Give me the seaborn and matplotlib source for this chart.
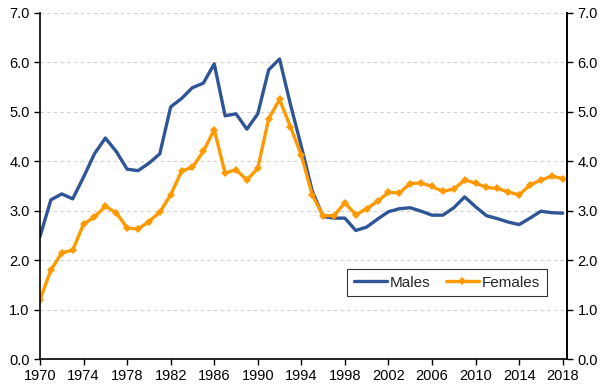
import numpy as np
import pandas as pd
import matplotlib
matplotlib.use("Agg")
import matplotlib.pyplot as plt
import seaborn as sns

# Values, 1970-2018
years = list(range(1970, 2019))
males = [2.48, 3.22, 3.34, 3.24, 3.68, 4.15, 4.47, 4.20, 3.84, 3.81,
         3.96, 4.15, 5.10, 5.27, 5.49, 5.58, 5.97, 4.92, 4.96, 4.65,
         4.96, 5.85, 6.07, 5.15, 4.30, 3.40, 2.88, 2.85, 2.85, 2.60,
         2.67, 2.83, 2.98, 3.04, 3.06, 2.99, 2.91, 2.91, 3.06, 3.28,
         3.08, 2.90, 2.84, 2.77, 2.72, 2.85, 2.99, 2.96, 2.95]
females = [1.20, 1.80, 2.15, 2.20, 2.73, 2.87, 3.09, 2.96, 2.65, 2.63,
           2.78, 2.97, 3.32, 3.80, 3.88, 4.20, 4.64, 3.76, 3.83, 3.62,
           3.86, 4.86, 5.25, 4.70, 4.12, 3.32, 2.90, 2.90, 3.16, 2.92,
           3.04, 3.19, 3.37, 3.36, 3.55, 3.56, 3.49, 3.39, 3.44, 3.62,
           3.56, 3.47, 3.45, 3.38, 3.32, 3.52, 3.62, 3.70, 3.65]
x_ticks = list(range(1970, 2019, 4))
y_ticks = [0, 1, 2, 3, 4, 5, 6, 7]

df = pd.DataFrame({"Year": years, "Males": males, "Females": females})

sns.set_style("white")
plt.rcParams["font.family"] = ["Liberation Sans", "DejaVu Sans"]

fig = plt.figure(figsize=(6.08, 3.91), dpi=100)
ax = fig.add_axes([0.0658, 0.0818, 0.8668, 0.885])

sns.lineplot(data=df, x="Year", y="Males", color="#2F5597",
             linewidth=2.4, label="Males", ax=ax)
sns.lineplot(data=df, x="Year", y="Females", color="#FF9900",
             linewidth=2.4, marker="D", markersize=4.5, markeredgewidth=0,
             label="Females", ax=ax)

ax.set_xlim(1970, 2018.4)
ax.set_ylim(0, 7)
ax.set_xticks(x_ticks)
ax.set_yticks(y_ticks)
ax.set_yticklabels([f"{v:.1f}" for v in y_ticks])
ax.set_xlabel("")
ax.set_ylabel("")
ax.yaxis.grid(True, color="#d0d0d0", linestyle=(0, (3, 3)), linewidth=0.8)
ax.set_axisbelow(True)
for side in ["left", "right", "bottom"]:
    ax.spines[side].set_visible(True)
    ax.spines[side].set_color("black")
    ax.spines[side].set_linewidth(1.2)
ax.spines["top"].set_visible(False)
ax.tick_params(axis="both", direction="out", length=4, width=1,
               labelsize=10.5, colors="black", bottom=True, left=True)

ax2 = ax.twinx()
ax2.set_ylim(0, 7)
ax2.set_yticks(y_ticks)
ax2.set_yticklabels([f"{v:.1f}" for v in y_ticks])
ax2.tick_params(axis="y", direction="out", length=4, width=1,
                labelsize=10.5, colors="black", right=True)
for side in ["left", "top", "bottom"]:
    ax2.spines[side].set_visible(False)
ax2.spines["right"].set_color("black")
ax2.spines["right"].set_linewidth(1.2)

handles, labels = ax.get_legend_handles_labels()
leg = ax.legend(handles, labels, loc="center",
                bbox_to_anchor=(0.772, 0.221),
                ncol=2, frameon=True, fancybox=False, fontsize=11,
                handlelength=2.2, handletextpad=0.15, columnspacing=1.0,
                borderpad=0.45, borderaxespad=0)
leg.get_frame().set_edgecolor("black")
leg.get_frame().set_linewidth(0.8)

fig.savefig("out.png", dpi=100)
